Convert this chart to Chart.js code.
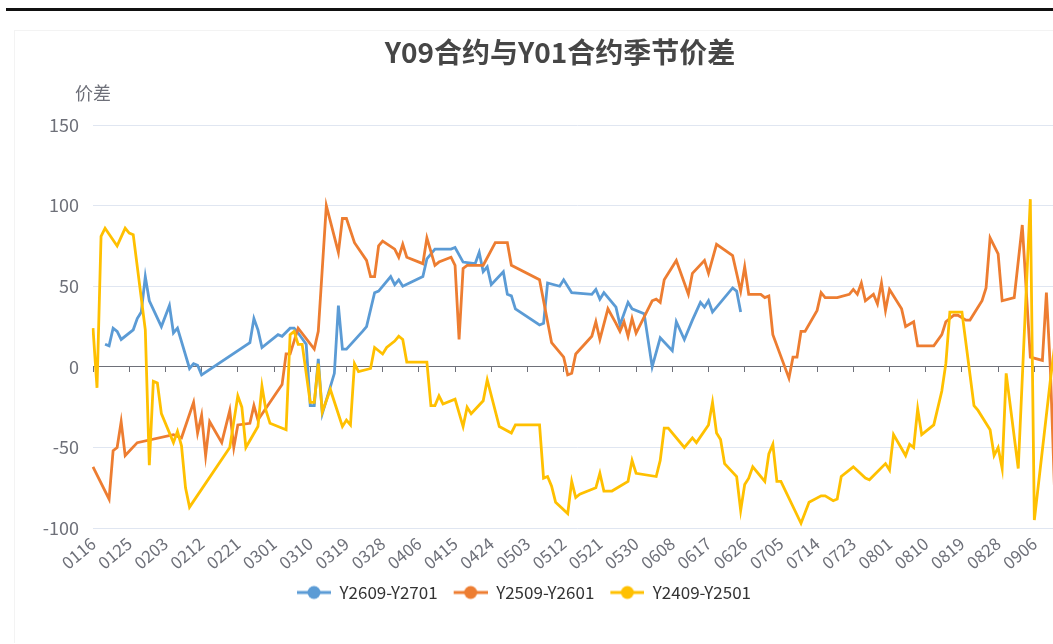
<!DOCTYPE html>
<html>
<head>
<meta charset="utf-8">
<script src="https://cdn.jsdelivr.net/npm/chart.js@4.4.1/dist/chart.umd.min.js"></script>
<style>
  html, body { margin: 0; padding: 0; background: #fff; width: 1053px; height: 644px; overflow: hidden; }
  #rule { position: absolute; left: 6px; top: 8px; width: 1100px; height: 3px; background: #111; }
  #panel { position: absolute; left: 15px; top: 31px; width: 1090px; height: 613px; box-shadow: -1px -1px 0 #f3f3f3; }
  canvas { display: block; }
</style>
</head>
<body>
<div id="rule"></div>
<div id="panel"><canvas id="chart"></canvas></div>
<script>
const FONT = '"Noto Sans CJK SC", "Noto Sans", sans-serif';
Chart.defaults.font.family = FONT;

const titleText = 'Y09合约与Y01合约季节价差';
const yName = '价差';
const seriesNames = ['Y2609-Y2701', 'Y2509-Y2601', 'Y2409-Y2501'];
const seriesColors = ['#5B9BD5', '#ED7D31', '#FFC000'];

// x categories: every calendar day 0116..0913 (0229 included), a label every 9th day
const monthSpans = [[1, 16, 31], [2, 1, 29], [3, 1, 31], [4, 1, 30], [5, 1, 31], [6, 1, 30], [7, 1, 31], [8, 1, 31], [9, 1, 13]];
const days = [];
monthSpans.forEach(([m, d0, d1]) => {
  for (let d = d0; d <= d1; d++) days.push(String(m).padStart(2, '0') + String(d).padStart(2, '0'));
});
const labelEvery = 9;
const yMin = -100, yMax = 150, yStep = 50;

// [day, spread]
const y2609 = [
  ['0119', 14], ['0120', 13], ['0121', 24], ['0122', 22], ['0123', 17], ['0126', 23], ['0127', 30], ['0128', 34],
  ['0129', 56], ['0130', 41], ['0202', 25], ['0204', 38], ['0205', 21], ['0206', 24], ['0209', -1], ['0210', 2],
  ['0211', 1], ['0212', -5], ['0224', 15], ['0225', 30], ['0226', 23], ['0227', 12], ['0302', 20], ['0303', 19],
  ['0305', 24], ['0306', 24], ['0307', 21], ['0309', 14], ['0310', -24], ['0311', -24], ['0312', 5], ['0313', -29],
  ['0316', -4], ['0317', 38], ['0318', 11], ['0319', 11], ['0323', 22], ['0324', 25], ['0326', 46], ['0327', 47],
  ['0330', 56], ['0331', 51], ['0401', 54], ['0402', 50], ['0407', 56], ['0408', 67], ['0410', 73], ['0414', 73],
  ['0415', 74], ['0417', 65], ['0420', 64], ['0421', 71], ['0422', 59], ['0423', 62], ['0424', 51], ['0427', 59],
  ['0428', 45], ['0429', 44], ['0430', 36], ['0506', 26], ['0507', 27], ['0508', 52], ['0511', 50], ['0512', 54],
  ['0514', 46], ['0519', 45], ['0520', 48], ['0521', 42], ['0522', 46], ['0525', 37], ['0526', 26], ['0528', 40],
  ['0529', 36], ['0601', 33], ['0603', 0], ['0605', 18], ['0608', 10], ['0609', 28], ['0611', 17], ['0613', 29],
  ['0615', 40], ['0616', 37], ['0617', 41], ['0618', 34], ['0623', 49], ['0624', 47], ['0625', 34]
];
const y2509 = [
  ['0116', -62], ['0120', -82], ['0121', -52], ['0122', -50], ['0123', -34], ['0124', -55], ['0127', -47],
  ['0205', -42], ['0207', -44], ['0210', -22], ['0211', -41], ['0212', -30], ['0213', -55], ['0214', -34],
  ['0217', -47], ['0219', -27], ['0220', -50], ['0221', -36], ['0224', -35], ['0225', -24], ['0226', -33],
  ['0303', -11], ['0304', 8], ['0305', 8], ['0307', 24], ['0311', 11], ['0312', 22], ['0314', 100], ['0317', 71],
  ['0318', 92], ['0319', 92], ['0321', 77], ['0324', 66], ['0325', 56], ['0326', 56], ['0327', 75], ['0328', 78],
  ['0331', 73], ['0401', 68], ['0402', 76], ['0403', 68], ['0407', 64], ['0408', 80], ['0410', 63], ['0411', 65],
  ['0414', 68], ['0415', 63], ['0416', 17], ['0417', 61], ['0418', 63], ['0422', 63], ['0425', 77], ['0428', 77],
  ['0429', 63], ['0506', 54], ['0509', 15], ['0512', 6], ['0513', -5], ['0514', -4], ['0515', 8], ['0519', 19],
  ['0520', 28], ['0521', 17], ['0523', 36], ['0525', 27], ['0526', 22], ['0527', 28], ['0528', 19], ['0529', 30],
  ['0530', 21], ['0603', 41], ['0604', 42], ['0605', 40], ['0606', 54], ['0609', 66], ['0612', 45], ['0613', 58],
  ['0616', 66], ['0617', 58], ['0619', 76], ['0623', 69], ['0625', 47], ['0626', 62], ['0627', 45], ['0630', 45],
  ['0701', 43], ['0702', 44], ['0703', 20], ['0707', -7], ['0708', 6], ['0709', 6], ['0710', 22], ['0711', 22],
  ['0714', 35], ['0715', 46], ['0716', 43], ['0719', 43], ['0722', 45], ['0723', 48], ['0724', 45], ['0725', 52],
  ['0726', 41], ['0728', 45], ['0729', 39], ['0730', 52], ['0731', 35], ['0801', 48], ['0804', 36], ['0805', 25],
  ['0807', 28], ['0808', 13], ['0812', 13], ['0814', 20], ['0815', 28], ['0817', 32], ['0818', 32], ['0820', 29],
  ['0821', 29], ['0824', 41], ['0825', 49], ['0826', 80], ['0828', 70], ['0829', 41], ['0901', 43], ['0903', 88],
  ['0905', 6], ['0908', 4], ['0909', 46], ['0910', -2], ['0911', -75]
];
const y2409 = [
  ['0116', 24], ['0117', -13], ['0118', 81], ['0119', 86], ['0122', 75], ['0124', 86], ['0125', 83], ['0126', 82],
  ['0129', 23], ['0130', -61], ['0131', -9], ['0201', -10], ['0202', -29], ['0205', -47], ['0206', -40], ['0207', -49],
  ['0208', -75], ['0209', -87], ['0219', -50], ['0221', -18], ['0222', -25], ['0223', -50], ['0226', -37], ['0227', -12],
  ['0228', -27], ['0229', -35], ['0304', -39], ['0305', 20], ['0306', 22], ['0307', 14], ['0308', 14], ['0310', -22],
  ['0311', -22], ['0312', 2], ['0313', -28], ['0315', -14], ['0318', -37], ['0319', -33], ['0320', -36], ['0321', 2],
  ['0322', -3], ['0325', -1], ['0326', 12], ['0328', 8], ['0329', 12], ['0331', 16], ['0401', 19], ['0402', 17],
  ['0403', 3], ['0408', 3], ['0409', -24], ['0410', -24], ['0411', -18], ['0412', -23], ['0415', -20], ['0417', -37],
  ['0418', -25], ['0419', -29], ['0422', -21], ['0423', -8], ['0426', -37], ['0429', -41], ['0430', -36], ['0506', -36],
  ['0507', -69], ['0508', -68], ['0509', -74], ['0510', -84], ['0513', -91], ['0514', -71], ['0515', -81], ['0516', -79],
  ['0520', -75], ['0521', -66], ['0522', -77], ['0524', -77], ['0528', -71], ['0529', -58], ['0530', -66], ['0604', -68],
  ['0605', -58], ['0606', -38], ['0607', -38], ['0611', -50], ['0613', -44], ['0614', -47], ['0617', -36], ['0618', -22],
  ['0619', -41], ['0620', -45], ['0621', -60], ['0624', -68], ['0625', -89], ['0626', -73], ['0627', -69], ['0628', -62],
  ['0701', -71], ['0702', -54], ['0703', -48], ['0704', -71], ['0705', -71], ['0710', -97], ['0712', -84], ['0715', -80],
  ['0716', -80], ['0718', -83], ['0719', -82], ['0720', -68], ['0723', -62], ['0726', -69], ['0727', -70], ['0731', -60],
  ['0801', -64], ['0802', -42], ['0805', -55], ['0806', -48], ['0807', -50], ['0808', -26], ['0809', -42], ['0812', -36],
  ['0814', -15], ['0815', 2], ['0816', 34], ['0819', 34], ['0822', -24], ['0823', -27], ['0826', -39], ['0827', -55],
  ['0828', -50], ['0829', -63], ['0830', -4], ['0902', -63], ['0905', 104], ['0906', -95], ['0910', -8], ['0911', 12]
];
const seriesData = [y2609, y2509, y2409];

// legend icon: short line with a dot, like the original
function legendIcon(color) {
  const c = document.createElement('canvas');
  c.width = 42;
  c.height = 16;
  const g = c.getContext('2d');
  g.strokeStyle = color;
  g.lineWidth = 3;
  g.beginPath();
  g.moveTo(8, 8);
  g.lineTo(42, 8);
  g.stroke();
  g.fillStyle = color;
  g.beginPath();
  g.arc(25, 8, 6.5, 0, Math.PI * 2);
  g.fill();
  return c;
}
const icons = seriesColors.map(legendIcon);

const RIGHT_PAD = 42.5;

// y axis name drawn flat above the axis
const axisName = {
  id: 'axisName',
  afterDraw(chart) {
    const { ctx, chartArea } = chart;
    ctx.save();
    ctx.font = '18px ' + FONT;
    ctx.fillStyle = '#6E7079';
    ctx.textAlign = 'center';
    ctx.textBaseline = 'middle';
    ctx.fillText(yName, chartArea.left, chartArea.top - 32);
    ctx.restore();
  }
};

// title spans the full panel; the legend sits a bit left of centre
const boxNudge = {
  id: 'boxNudge',
  afterLayout(chart) {
    const t = chart.titleBlock;
    t.right += RIGHT_PAD;
    const lg = chart.legend;
    lg.right += RIGHT_PAD - 40;
    lg.left -= 40;
    lg.top -= 2;
    lg.bottom -= 2;
  }
};

const tickMark = ctx => (ctx.index % labelEvery === 0 ? '#6E7079' : 'rgba(0,0,0,0)');

new Chart(document.getElementById('chart'), {
  type: 'line',
  data: {
    labels: days,
    datasets: seriesData.map((pts, i) => ({
      label: seriesNames[i],
      data: pts.map(([d, v]) => ({ x: d, y: v })),
      borderColor: seriesColors[i],
      backgroundColor: seriesColors[i],
      borderWidth: 2.8,
      pointRadius: 0,
      tension: 0,
      order: 3 - i,
      xAxisID: 'x',
      yAxisID: 'y'
    }))
  },
  options: {
    responsive: true,
    maintainAspectRatio: false,
    animation: false,
    layout: { padding: { left: 0, right: RIGHT_PAD, top: 0, bottom: 31 } },
    plugins: {
      title: {
        display: true,
        text: titleText,
        color: '#464646',
        font: { size: 28, weight: 'bold' },
        padding: { top: 5, bottom: 55.4 }
      },
      legend: {
        position: 'bottom',
        labels: {
          usePointStyle: true,
          pointStyleWidth: 42,
          padding: 8,
          color: '#333',
          font: { size: 17 },
          sort: (a, b) => a.datasetIndex - b.datasetIndex,
          generateLabels: chart => Chart.defaults.plugins.legend.labels.generateLabels(chart)
            .map(item => ({ ...item, pointStyle: icons[item.datasetIndex] }))
        }
      },
      tooltip: { enabled: false }
    },
    scales: {
      x: {
        type: 'category',
        position: 'bottom',
        grid: { display: false, drawTicks: false },
        border: { display: false },
        ticks: {
          autoSkip: false,
          minRotation: 40,
          maxRotation: 40,
          padding: 5,
          color: '#6E7079',
          font: { size: 17 },
          callback: (v, i) => (i % labelEvery === 0 ? days[i] : '')
        }
      },
      x0: {
        type: 'category',
        axis: 'x',
        position: { y: 0 },
        grid: { drawOnChartArea: false, drawTicks: true, tickLength: 5, color: tickMark, tickColor: tickMark },
        border: { display: true, color: '#6E7079', width: 1 },
        ticks: { display: false, autoSkip: false }
      },
      y: {
        min: yMin,
        max: yMax,
        afterFit: s => { s.width = 78; },
        grid: { color: c => (c.tick && c.tick.value === 0 ? 'rgba(0,0,0,0)' : '#E0E6F1'), drawTicks: false },
        border: { display: false },
        ticks: { stepSize: yStep, padding: 14, color: '#6E7079', font: { size: 18 } }
      }
    }
  },
  plugins: [axisName, boxNudge]
});
</script>
</body>
</html>
